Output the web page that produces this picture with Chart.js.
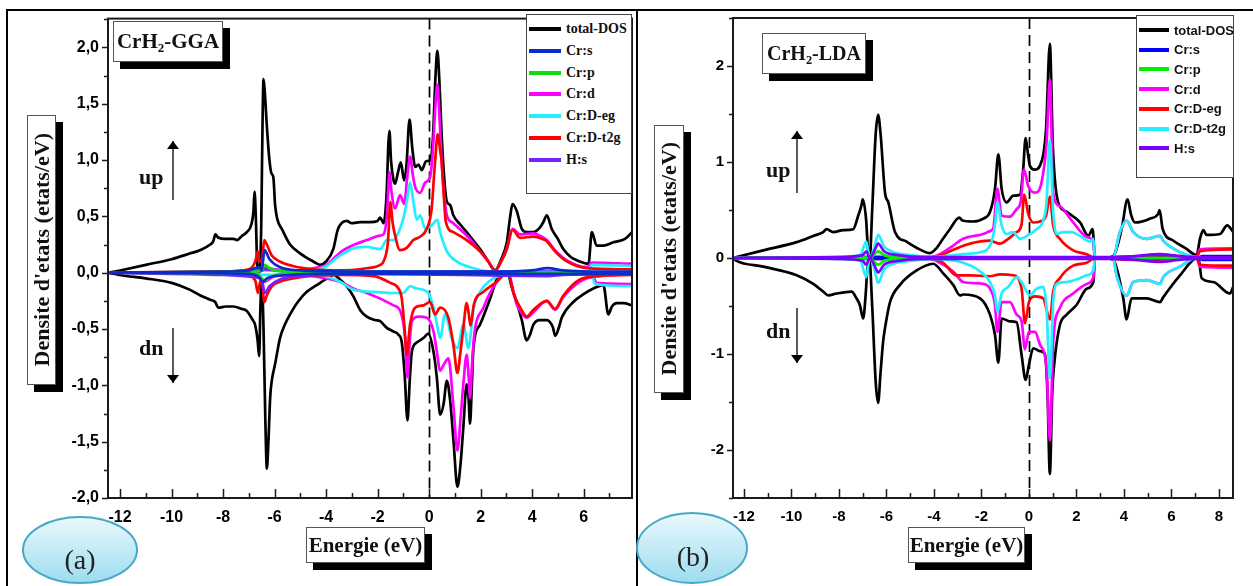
<!DOCTYPE html>
<html lang="fr">
<head>
<meta charset="utf-8">
<title>CrH2 DOS GGA / LDA</title>
<script src="https://cdn.jsdelivr.net/npm/chart.js@4.4.1/dist/chart.umd.min.js"></script>
<style>
  html, body { margin: 0; padding: 0; background: #fff; }
  body { width: 1253px; height: 586px; position: relative; overflow: hidden; font-family: "Liberation Serif", "Times New Roman", serif; }
  .plot { position: absolute; }
  .rule { position: absolute; background: #000; }
  .tbox { position: absolute; background: #fff; border: 1px solid #555; box-shadow: 7px 7px 0 #000; font-weight: bold; color: #111; display: flex; align-items: center; justify-content: center; white-space: nowrap; }
  .tbox sub { font-size: 62%; vertical-align: -0.32em; line-height: 0; }
  .vtext { writing-mode: vertical-rl; transform: rotate(180deg); }
  .legend { position: absolute; background: #fff; border: 1.5px solid #444; box-sizing: border-box; }
  .legend .item { position: absolute; left: 0; height: 18px; display: flex; align-items: center; white-space: nowrap; font-weight: bold; color: #111; }
  .legend .swatch { display: inline-block; height: 4px; margin-right: 5px; }
  .lbl { position: absolute; font-weight: bold; font-size: 22px; color: #111; line-height: 1; }
  svg.over { position: absolute; left: 0; top: 0; pointer-events: none; }
</style>
</head>
<body>

<!-- cadre -->
<div class="rule" style="left:6px;top:9px;width:1247px;height:2px"></div>
<div class="rule" style="left:6px;top:9px;width:2px;height:577px"></div>
<div class="rule" style="left:636px;top:9px;width:2px;height:577px"></div>

<div class="plot" style="left:40px;top:0;width:600px;height:540px"><canvas id="dosA"></canvas></div>
<div class="plot" style="left:660px;top:0;width:580px;height:540px"><canvas id="dosB"></canvas></div>

<!-- titres -->
<div class="tbox" style="left:113px;top:21px;width:108px;height:39px;font-size:21px"><span>CrH<sub>2</sub>-GGA</span></div>
<div class="tbox" style="left:762px;top:33px;width:102px;height:39px;font-size:20px"><span>CrH<sub>2</sub>-LDA</span></div>

<div class="tbox" style="left:27px;top:115px;width:27px;height:268px;font-size:22px"><span class="vtext">Densite d'etats (etats/eV)</span></div>
<div class="tbox" style="left:654px;top:125px;width:28px;height:266px;font-size:22px"><span class="vtext">Densite d'etats (etats/eV)</span></div>

<div class="tbox" style="left:306px;top:527px;width:117px;height:34px;font-size:21px">Energie (eV)</div>
<div class="tbox" style="left:908px;top:527px;width:115px;height:34px;font-size:21px">Energie (eV)</div>

<div class="legend" id="legA" style="left:526px;top:14px;width:106px;height:180px;font-family:'Liberation Serif','Times New Roman',serif;font-size:14px"></div>
<div class="legend" id="legB" style="left:1136px;top:15px;width:98px;height:163px;font-family:'Liberation Sans',Arial,sans-serif;font-size:13px"></div>

<div class="lbl" style="left:139px;top:166px">up</div>
<div class="lbl" style="left:139px;top:337px">dn</div>
<div class="lbl" style="left:766px;top:159px">up</div>
<div class="lbl" style="left:766px;top:320px">dn</div>

<svg class="over" width="1253" height="586" viewBox="0 0 1253 586">
  <defs>
    <linearGradient id="bub" x1="0" y1="0" x2="0" y2="1">
      <stop offset="0" stop-color="#eaf9fd"/>
      <stop offset="1" stop-color="#9ddcef"/>
    </linearGradient>
    <marker id="tip" viewBox="0 0 8 12" refX="8" refY="6" markerWidth="8" markerHeight="12" orient="auto" markerUnits="userSpaceOnUse">
      <path d="M0,0 L8,6 L0,12 z" fill="#000"/>
    </marker>
  </defs>
  <line x1="173" y1="200" x2="173" y2="141" stroke="#000" stroke-width="1.3" marker-end="url(#tip)"/>
  <line x1="173" y1="328" x2="173" y2="383" stroke="#000" stroke-width="1.3" marker-end="url(#tip)"/>
  <line x1="797" y1="193" x2="797" y2="131" stroke="#000" stroke-width="1.3" marker-end="url(#tip)"/>
  <line x1="797" y1="308" x2="797" y2="363" stroke="#000" stroke-width="1.3" marker-end="url(#tip)"/>
  <ellipse cx="80" cy="550" rx="57" ry="33" fill="url(#bub)" stroke="#46a9c6" stroke-width="2"/>
  <ellipse cx="692" cy="548" rx="55" ry="35" fill="url(#bub)" stroke="#46a9c6" stroke-width="2"/>
  <text x="80" y="569" text-anchor="middle" font-family="Liberation Serif, Times New Roman, serif" font-size="28" fill="#222">(a)</text>
  <text x="693" y="566" text-anchor="middle" font-family="Liberation Serif, Times New Roman, serif" font-size="28" fill="#222">(b)</text>
</svg>

<script>
// ---------- Données (a) GGA : paires [E (eV), DOS (etats/eV)] ----------
const ggaTotalUp = [[-12.47,0],[-12.2,0.01],[-12,0.02],[-11,0.07],[-10,0.12],[-9.3,0.17],[-8.9,0.2],[-8.5,0.25],[-8.38,0.28],[-8.3,0.34],[-8.18,0.31],[-7.9,0.3],[-7.6,0.3],[-7.45,0.29],[-7.3,0.32],[-7.08,0.36],[-6.9,0.43],[-6.82,0.55],[-6.78,0.72],[-6.73,0.5],[-6.68,0.1],[-6.6,0],[-6.52,0.4],[-6.47,1.3],[-6.43,1.72],[-6.38,1.6],[-6.3,1.3],[-6.2,1.0],[-6.12,0.88],[-6.05,0.85],[-5.98,0.6],[-5.9,0.48],[-5.7,0.38],[-5.4,0.25],[-5,0.17],[-4.5,0.1],[-4.23,0.07],[-4,0.1],[-3.72,0.21],[-3.55,0.38],[-3.4,0.44],[-3.2,0.46],[-3,0.44],[-2.68,0.45],[-2.3,0.45],[-2,0.46],[-1.9,0.49],[-1.77,0.44],[-1.65,0.7],[-1.58,1.15],[-1.54,1.26],[-1.48,1.0],[-1.38,0.82],[-1.32,0.79],[-1.2,0.9],[-1.1,0.98],[-0.97,0.82],[-0.88,0.95],[-0.76,1.36],[-0.65,1.1],[-0.54,0.94],[-0.41,0.96],[-0.28,0.91],[-0.12,0.99],[0.04,1.0],[0.15,1.2],[0.25,1.75],[0.32,1.97],[0.4,1.7],[0.49,1.21],[0.6,0.8],[0.69,0.63],[0.82,0.6],[0.94,0.51],[1.2,0.43],[1.46,0.36],[1.7,0.29],[1.98,0.21],[2.3,0.1],[2.56,0.02],[2.8,0.12],[3.02,0.27],[3.15,0.5],[3.24,0.61],[3.4,0.55],[3.6,0.39],[3.8,0.36],[4.05,0.36],[4.3,0.4],[4.44,0.45],[4.57,0.51],[4.76,0.39],[5,0.3],[5.21,0.21],[5.5,0.14],[5.74,0.11],[6.19,0.08],[6.32,0.36],[6.51,0.24],[6.77,0.24],[7.16,0.27],[7.61,0.3],[7.88,0.36]];
const ggaTotalDn = [[-12.47,0],[-12.2,-0.01],[-12,-0.02],[-11,-0.05],[-10,-0.09],[-9.3,-0.15],[-8.9,-0.2],[-8.5,-0.24],[-8.31,-0.26],[-8.18,-0.31],[-7.9,-0.3],[-7.6,-0.3],[-7.3,-0.32],[-7.08,-0.34],[-6.85,-0.42],[-6.76,-0.46],[-6.66,-0.6],[-6.6,-0.74],[-6.55,-0.3],[-6.5,-0.05],[-6.43,-0.5],[-6.36,-1.3],[-6.3,-1.74],[-6.24,-1.5],[-6.17,-1.1],[-6.11,-0.96],[-5.98,-0.81],[-5.79,-0.58],[-5.6,-0.46],[-5.4,-0.37],[-5.1,-0.26],[-4.75,-0.17],[-4.23,-0.09],[-3.9,-0.04],[-3.71,-0.02],[-3.46,-0.06],[-3.2,-0.12],[-2.94,-0.21],[-2.68,-0.33],[-2.42,-0.39],[-2.1,-0.42],[-1.9,-0.43],[-1.64,-0.49],[-1.4,-0.52],[-1.19,-0.55],[-1.06,-0.62],[-0.95,-0.9],[-0.84,-1.31],[-0.75,-0.95],[-0.67,-0.7],[-0.48,-0.62],[-0.22,-0.58],[-0.03,-0.54],[0.17,-0.7],[0.3,-0.93],[0.43,-1.26],[0.56,-1.17],[0.69,-0.96],[0.82,-1.14],[0.95,-1.5],[1.1,-1.9],[1.22,-1.7],[1.33,-1.37],[1.46,-0.99],[1.53,-1.1],[1.59,-1.34],[1.66,-1.0],[1.72,-0.67],[1.98,-0.46],[2.37,-0.23],[2.63,-0.06],[3.05,0],[3.2,-0.12],[3.4,-0.26],[3.6,-0.42],[3.79,-0.6],[3.92,-0.55],[4.05,-0.46],[4.3,-0.42],[4.57,-0.42],[4.8,-0.48],[4.9,-0.56],[5.05,-0.48],[5.15,-0.4],[5.6,-0.26],[6,-0.19],[6.38,-0.14],[6.77,-0.11],[6.96,-0.37],[7.1,-0.3],[7.29,-0.27],[7.55,-0.27],[7.88,-0.29]];
const ggaCrsUp = [[-12.47,0],[-8,0.01],[-7,0.02],[-6.6,0.05],[-6.5,0.02],[-6.39,0.2],[-6.2,0.12],[-5.8,0.05],[-5,0.02],[-3,0.01],[3,0.01],[4,0.02],[4.6,0.04],[5.2,0.02],[6.2,0.01],[7.88,0.01]];
const ggaCrsDn = [[-12.47,0],[-7,-0.01],[-6.6,-0.04],[-6.45,-0.08],[-6.3,-0.05],[-5.5,-0.02],[-4,-0.01],[7.88,-0.01]];
const ggaCrpUp = [[-12.47,0],[-6.7,0.01],[-6.5,0.02],[-6.38,0.07],[-6.2,0.04],[-5.5,0.01],[7.88,0]];
const ggaCrpDn = [[-12.47,0],[-6.7,-0.01],[-6.38,-0.07],[-6.2,-0.04],[-5.5,-0.01],[7.88,0]];
const ggaCrdUp = [[-12.47,0],[-8,0.01],[-7,0.02],[-6.7,0.02],[-6.4,0.05],[-6,0.03],[-5,0.02],[-4.5,0.04],[-3.97,0.07],[-3.6,0.15],[-3.33,0.2],[-2.9,0.25],[-2.42,0.29],[-1.9,0.33],[-1.77,0.34],[-1.64,0.5],[-1.54,0.89],[-1.45,0.7],[-1.32,0.57],[-1.13,0.69],[-0.96,0.61],[-0.85,0.85],[-0.74,1.03],[-0.62,0.85],[-0.54,0.76],[-0.35,0.71],[-0.15,0.8],[0.04,0.85],[0.15,1.1],[0.25,1.5],[0.32,1.67],[0.4,1.4],[0.49,0.98],[0.6,0.65],[0.69,0.51],[0.94,0.44],[1.46,0.33],[1.98,0.19],[2.3,0.1],[2.56,0.02],[2.8,0.1],[3.02,0.22],[3.24,0.39],[3.53,0.34],[4.05,0.35],[4.44,0.31],[4.57,0.29],[4.89,0.2],[5.35,0.11],[6.13,0.05],[6.32,0.09],[7.88,0.08]];
const ggaCrdDn = [[-12.47,0],[-8,-0.01],[-7,-0.02],[-6.6,-0.05],[-6.4,-0.08],[-6,-0.03],[-5,-0.02],[-4.5,-0.03],[-4,-0.05],[-3.46,-0.08],[-2.94,-0.14],[-2.42,-0.18],[-1.9,-0.23],[-1.38,-0.29],[-1.12,-0.34],[-0.93,-0.58],[-0.84,-0.93],[-0.75,-0.6],[-0.67,-0.43],[-0.41,-0.39],[-0.09,-0.4],[0.17,-0.52],[0.3,-0.7],[0.43,-0.87],[0.56,-0.82],[0.75,-0.76],[0.95,-1.2],[1.1,-1.58],[1.22,-1.3],[1.33,-0.99],[1.46,-0.73],[1.53,-0.9],[1.59,-1.11],[1.66,-0.85],[1.74,-0.58],[2.11,-0.31],[2.63,-0.08],[3.05,0],[3.4,-0.28],[3.6,-0.36],[3.79,-0.4],[4.05,-0.35],[4.57,-0.25],[4.89,-0.33],[5.2,-0.22],[5.86,-0.08],[6.38,-0.04],[6.5,-0.09],[7.88,-0.1]];
const ggaEgUp = [[-12.47,0],[-8,0.005],[-6.7,0.01],[-6.4,0.02],[-5,0.01],[-4.5,0.02],[-3.97,0.06],[-3.6,0.13],[-3.33,0.17],[-2.9,0.22],[-2.42,0.23],[-1.9,0.21],[-1.64,0.29],[-1.38,0.29],[-1.13,0.39],[-0.98,0.5],[-0.87,0.63],[-0.74,0.8],[-0.61,0.63],[-0.48,0.47],[-0.35,0.51],[-0.15,0.39],[0.1,0.42],[0.32,0.47],[0.43,0.36],[0.69,0.19],[1.07,0.1],[1.72,0.04],[2.49,0.01],[3.5,0.01],[5,0.01],[6.2,0.01],[6.32,0.07],[7.88,0.06]];
const ggaEgDn = [[-12.47,0],[-8,-0.005],[-6.4,-0.02],[-5,-0.01],[-4.3,-0.02],[-3.9,-0.04],[-3.46,-0.08],[-2.94,-0.15],[-2.16,-0.17],[-1.51,-0.18],[-1,-0.18],[-0.74,-0.12],[-0.48,-0.14],[-0.03,-0.18],[0.17,-0.31],[0.3,-0.45],[0.43,-0.58],[0.62,-0.37],[0.88,-0.58],[1.1,-0.67],[1.33,-0.46],[1.53,-0.67],[1.72,-0.33],[1.98,-0.17],[2.5,-0.05],[3.1,-0.01],[6.3,-0.01],[6.45,-0.1],[7.88,-0.12]];
const ggaT2gUp = [[-12.47,0],[-8,0.01],[-7,0.03],[-6.75,0.1],[-6.65,0.19],[-6.58,0.1],[-6.5,0.1],[-6.4,0.29],[-6.3,0.25],[-6.1,0.15],[-5.8,0.1],[-5.3,0.06],[-4.5,0.03],[-3.7,0.02],[-2.42,0.04],[-1.9,0.07],[-1.77,0.1],[-1.6,0.27],[-1.5,0.63],[-1.42,0.45],[-1.32,0.33],[-1.13,0.2],[-0.87,0.22],[-0.61,0.29],[-0.35,0.32],[-0.09,0.39],[0.1,0.57],[0.22,0.95],[0.34,1.23],[0.42,1.1],[0.49,0.98],[0.58,0.65],[0.65,0.45],[0.94,0.36],[1.46,0.29],[1.98,0.19],[2.3,0.1],[2.56,0.02],[2.8,0.1],[3.02,0.21],[3.24,0.38],[3.53,0.31],[4.05,0.32],[4.4,0.3],[4.57,0.28],[4.89,0.19],[5.35,0.1],[6.13,0.04],[7.88,0.03]];
const ggaT2gDn = [[-12.47,0],[-8,-0.01],[-7,-0.03],[-6.75,-0.07],[-6.65,-0.18],[-6.58,-0.1],[-6.5,-0.05],[-6.4,-0.26],[-6.3,-0.2],[-6.1,-0.12],[-5.8,-0.08],[-5,-0.04],[-3.46,-0.02],[-2.16,-0.03],[-1.51,-0.09],[-1.19,-0.14],[-1.06,-0.23],[-0.95,-0.5],[-0.87,-0.73],[-0.74,-0.46],[-0.54,-0.31],[-0.22,-0.29],[0.04,-0.26],[0.23,-0.37],[0.43,-0.31],[0.75,-0.4],[0.95,-0.65],[1.1,-0.89],[1.22,-0.7],[1.33,-0.49],[1.46,-0.27],[1.53,-0.35],[1.61,-0.47],[1.74,-0.28],[2.11,-0.17],[2.63,-0.08],[3.05,0],[3.3,-0.2],[3.54,-0.31],[3.79,-0.39],[4.05,-0.33],[4.57,-0.25],[4.89,-0.32],[5.22,-0.2],[5.86,-0.06],[6.64,-0.03],[7.88,-0.02]];
const ggaHsUp = [[-12.47,0],[-6.6,0.01],[-6.38,0.03],[-5.5,0.01],[4.6,0.01],[7.88,0]];
const ggaHsDn = [[-12.47,0],[-8,-0.02],[-6.7,-0.04],[-6.5,-0.06],[-6.38,-0.18],[-6.2,-0.12],[-5.8,-0.06],[-5,-0.03],[-2,-0.01],[4.6,-0.03],[5.2,-0.02],[7.88,-0.01]];

// ---------- Données (b) LDA ----------
const ldaTotalUp = [[-12.46,0],[-12.31,0.01],[-11.19,0.08],[-9.78,0.165],[-9.08,0.23],[-8.66,0.27],[-8.52,0.3],[-8.24,0.27],[-7.82,0.29],[-7.4,0.3],[-7.19,0.44],[-7.05,0.55],[-7,0.61],[-6.86,0.41],[-6.78,0.1],[-6.7,0],[-6.6,0.5],[-6.45,1.3],[-6.35,1.49],[-6.25,1.3],[-6.06,0.68],[-5.92,0.58],[-5.64,0.27],[-5.15,0.17],[-4.6,0.09],[-4.17,0.05],[-3.9,0.1],[-3.62,0.2],[-3.33,0.3],[-2.93,0.42],[-2.8,0.39],[-2.35,0.38],[-1.92,0.41],[-1.64,0.48],[-1.43,0.72],[-1.29,1.08],[-1.15,0.72],[-0.94,0.58],[-0.66,0.65],[-0.38,0.66],[-0.25,0.9],[-0.14,1.25],[-0.05,1.1],[0.04,0.96],[0.25,0.92],[0.46,0.96],[0.62,1.1],[0.72,1.34],[0.88,2.23],[1,1.2],[1.09,0.82],[1.23,0.58],[1.59,0.48],[2.15,0.37],[2.5,0.23],[2.68,0.3],[2.78,0],[3.2,0],[3.55,0.02],[3.9,0.3],[4.15,0.61],[4.3,0.45],[4.46,0.37],[5.09,0.41],[5.44,0.46],[5.5,0.5],[5.63,0.3],[6.08,0.18],[6.6,0.1],[7.06,0.03],[7.2,0.2],[7.34,0.29],[7.48,0.24],[8.04,0.25],[8.35,0.34],[8.6,0.27]];
const ldaTotalDn = [[-12.46,0],[-12.31,-0.03],[-11.19,-0.09],[-9.78,-0.18],[-9.08,-0.27],[-8.66,-0.35],[-8.45,-0.39],[-8.1,-0.37],[-7.47,-0.35],[-7.26,-0.42],[-7.12,-0.49],[-6.98,-0.63],[-6.88,-0.4],[-6.8,-0.1],[-6.72,0],[-6.6,-0.5],[-6.45,-1.3],[-6.35,-1.51],[-6.25,-1.2],[-6.14,-0.87],[-6.06,-0.73],[-5.85,-0.46],[-5.43,-0.28],[-4.73,-0.13],[-4.03,-0.06],[-3.61,-0.16],[-3.19,-0.28],[-2.9,-0.39],[-2.77,-0.38],[-2.06,-0.42],[-1.64,-0.59],[-1.43,-0.8],[-1.29,-1.09],[-1.15,-0.63],[-0.8,-0.66],[-0.52,-0.67],[-0.31,-1.01],[-0.14,-1.27],[0,-1.11],[0.18,-0.94],[0.46,-0.97],[0.67,-1.0],[0.78,-1.4],[0.88,-2.25],[0.98,-1.4],[1.09,-1.04],[1.3,-0.7],[1.59,-0.59],[2,-0.49],[2.43,-0.32],[2.71,-0.25],[2.78,0],[3.2,0],[3.55,-0.02],[3.97,-0.42],[4.11,-0.64],[4.32,-0.42],[4.96,-0.42],[5.52,-0.46],[5.65,-0.41],[6.36,-0.18],[7.13,0.01],[7.27,-0.21],[7.76,-0.25],[8.46,-0.37],[8.6,-0.3]];
const ldaCrsUp = [[-12.46,0],[-6.4,0.01],[7.1,0],[7.3,0.02],[8.6,0.02]];
const ldaCrsDn = [[-12.46,0],[-6.4,-0.01],[7.1,0],[7.3,-0.02],[8.6,-0.02]];
const ldaCrpUp = [[-12.46,0],[-7,0.01],[-6.7,0],[-6.35,0.07],[-6.1,0.03],[-5.5,0.01],[8.6,0]];
const ldaCrpDn = [[-12.46,0],[-7,-0.01],[-6.7,0],[-6.35,-0.07],[-6.1,-0.03],[-5.5,-0.01],[8.6,0]];
const ldaCrdUp = [[-12.46,0],[-8,0.005],[-6.5,0.01],[-5,0.01],[-4.17,0.01],[-3.75,0.04],[-3.19,0.13],[-2.77,0.2],[-1.92,0.25],[-1.64,0.28],[-1.5,0.31],[-1.33,0.72],[-1.15,0.44],[-0.8,0.43],[-0.52,0.51],[-0.35,0.58],[-0.21,0.92],[-0.03,0.75],[0.25,0.68],[0.53,0.79],[0.74,1.2],[0.88,1.86],[1.02,0.68],[1.3,0.54],[1.86,0.37],[2.43,0.22],[2.71,0.17],[2.78,0],[3.55,0.01],[3.83,0.27],[4.11,0.39],[4.39,0.27],[4.96,0.2],[5.52,0.23],[5.65,0.18],[6.36,0.06],[7.06,0.01],[7.2,0.09],[8.6,0.1]];
const ldaCrdDn = [[-12.46,0],[-8,-0.005],[-5,-0.01],[-4.17,-0.01],[-3.75,-0.05],[-3.19,-0.14],[-2.77,-0.25],[-1.92,-0.27],[-1.64,-0.32],[-1.43,-0.49],[-1.33,-0.77],[-1.15,-0.46],[-0.8,-0.46],[-0.52,-0.59],[-0.31,-0.66],[-0.17,-0.95],[0,-0.77],[0.25,-0.77],[0.46,-0.9],[0.74,-1.15],[0.88,-1.9],[1.02,-0.87],[1.3,-0.52],[1.86,-0.37],[2.43,-0.27],[2.71,-0.2],[2.78,0],[3.55,-0.01],[3.69,-0.18],[4.11,-0.39],[4.39,-0.25],[4.96,-0.23],[5.52,-0.27],[5.65,-0.2],[6.36,-0.09],[7.06,0],[7.2,-0.09],[8.6,-0.1]];
const ldaEgUp = [[-12.46,0],[-6.5,0.01],[-4.17,0],[-3.61,0.04],[-3.05,0.1],[-2.48,0.15],[-1.64,0.18],[-1.22,0.15],[-0.87,0.2],[-0.52,0.27],[-0.31,0.35],[-0.2,0.66],[-0.03,0.46],[0.18,0.37],[0.46,0.38],[0.72,0.44],[0.88,0.64],[1.02,0.34],[1.3,0.2],[1.86,0.08],[2.43,0.04],[2.78,0],[3.55,0.01],[5,0.02],[6.5,0.02],[7.06,0.01],[7.2,0.07],[8.6,0.09]];
const ldaEgDn = [[-12.46,0],[-6.5,-0.01],[-4.17,0],[-3.61,-0.05],[-3.05,-0.18],[-2.48,-0.18],[-1.64,-0.19],[-1.22,-0.17],[-0.66,-0.18],[-0.31,-0.32],[-0.17,-0.68],[0,-0.46],[0.25,-0.4],[0.6,-0.42],[0.88,-0.64],[1.02,-0.35],[1.3,-0.21],[1.86,-0.08],[2.43,-0.05],[2.78,0],[3.55,-0.01],[5,-0.02],[7.06,0],[7.2,-0.07],[8.6,-0.08]];
const ldaT2gUp = [[-12.46,0],[-8,0.01],[-7.1,0.03],[-6.85,0.17],[-6.75,0.05],[-6.68,0],[-6.5,0.12],[-6.35,0.24],[-6.1,0.12],[-5.7,0.06],[-5,0.03],[-4.17,0.01],[-2.77,0.04],[-2.06,0.06],[-1.64,0.13],[-1.43,0.34],[-1.33,0.58],[-1.15,0.34],[-0.94,0.25],[-0.66,0.27],[-0.38,0.2],[0.04,0.25],[0.32,0.3],[0.6,0.39],[0.74,0.58],[0.88,1.23],[1.02,0.48],[1.16,0.25],[1.44,0.27],[1.8,0.27],[2.15,0.23],[2.57,0.17],[2.71,0.2],[2.78,0],[3.55,0.01],[3.83,0.27],[4.11,0.39],[4.39,0.27],[4.96,0.2],[5.52,0.23],[5.65,0.18],[6.36,0.06],[7.06,0.01],[8.6,0.01]];
const ldaT2gDn = [[-12.46,0],[-8,-0.01],[-7.1,-0.03],[-6.85,-0.2],[-6.75,-0.05],[-6.68,0],[-6.5,-0.12],[-6.35,-0.26],[-6.1,-0.12],[-5.7,-0.06],[-5,-0.03],[-4.17,-0.01],[-2.77,-0.05],[-2.06,-0.14],[-1.64,-0.25],[-1.43,-0.39],[-1.33,-0.56],[-1.15,-0.37],[-0.87,-0.3],[-0.52,-0.2],[-0.31,-0.25],[0.04,-0.39],[0.32,-0.32],[0.6,-0.3],[0.74,-0.52],[0.88,-1.25],[1.02,-0.46],[1.16,-0.27],[1.59,-0.25],[2.15,-0.21],[2.43,-0.18],[2.71,-0.13],[2.78,0],[3.55,-0.01],[3.69,-0.18],[4.11,-0.39],[4.39,-0.25],[4.96,-0.23],[5.52,-0.27],[5.65,-0.2],[6.36,-0.09],[7.06,0],[8.6,-0.01]];
const ldaHsUp = [[-12.46,0],[-8,0.01],[-7,0.03],[-6.85,0.07],[-6.7,0],[-6.5,0.08],[-6.35,0.15],[-6.1,0.07],[-5.5,0.03],[-4.5,0.01],[3.5,0.01],[4.5,0.02],[5.5,0.04],[6.3,0.02],[7.1,0.01],[8.6,0.01]];
const ldaHsDn = [[-12.46,0],[-8,-0.01],[-7,-0.03],[-6.85,-0.07],[-6.7,0],[-6.5,-0.08],[-6.35,-0.15],[-6.1,-0.07],[-5.5,-0.03],[-4.5,-0.01],[3.5,-0.01],[4.5,-0.02],[5.5,-0.04],[6.3,-0.02],[7.1,-0.01],[8.6,-0.01]];

// ---------- Axes ----------
const ggaXTicks = [-12, -10, -8, -6, -4, -2, 0, 2, 4, 6];
const ggaYTicks = [-2, -1.5, -1, -0.5, 0, 0.5, 1, 1.5, 2];
const ldaXTicks = [-12, -10, -8, -6, -4, -2, 0, 2, 4, 6, 8];
const ldaYTicks = [-2, -1, 0, 1, 2];

const seriesNames = ["total-DOS", "Cr:s", "Cr:p", "Cr:d", "Cr:D-eg", "Cr:D-t2g", "H:s"];

// couleurs (a) et (b) : eg/t2g inversés entre les deux figures
const colorsA = ["#000000", "#0a2ccc", "#11dd11", "#ff00ff", "#22eeff", "#ff0000", "#7a1fff"];
const colorsB = ["#000000", "#0000ff", "#00ee00", "#ff00ff", "#ff0000", "#22eeff", "#7a00ff"];

// ---------- Légendes ----------
function buildLegend(id, colors, top0, step, swW) {
  const box = document.getElementById(id);
  seriesNames.forEach((name, i) => {
    const it = document.createElement("div");
    it.className = "item";
    it.style.top = (top0 + i * step - 9) + "px";
    it.style.left = "2px";
    it.innerHTML = `<span class="swatch" style="width:${swW}px;background:${colors[i]}"></span>${name}`;
    box.appendChild(it);
  });
}
buildLegend("legA", colorsA, 14, 21.8, 32);
buildLegend("legB", colorsB, 14, 19.7, 30);

// ---------- Plugin : cadre, graduations, ligne E_F ----------
const frameTicks = {
  id: "frameTicks",
  beforeDatasetsDraw(chart) {
    const { ctx, chartArea: a, scales: { x } } = chart;
    const x0 = Math.round(x.getPixelForValue(0)) + 0.5;
    ctx.save();
    ctx.strokeStyle = "#000";
    ctx.lineWidth = 1.7;
    ctx.setLineDash([11, 6]);
    ctx.beginPath();
    ctx.moveTo(x0, a.top);
    ctx.lineTo(x0, a.bottom);
    ctx.stroke();
    ctx.restore();
  },
  afterDraw(chart, args, o) {
    const { ctx, chartArea: a, scales: { x, y } } = chart;
    ctx.save();
    ctx.strokeStyle = "#1a1a1a";
    ctx.lineWidth = 2;
    ctx.strokeRect(a.left, a.top, a.right - a.left, a.bottom - a.top);
    ctx.lineWidth = 1.5;
    ctx.beginPath();
    for (let v = Math.ceil(x.min / o.xMinor) * o.xMinor; v <= x.max + 1e-9; v += o.xMinor) {
      const px = Math.round(x.getPixelForValue(v)) + 0.5;
      const major = Math.abs(v / o.xMajor - Math.round(v / o.xMajor)) < 1e-6;
      ctx.moveTo(px, a.bottom);
      ctx.lineTo(px, a.bottom - (major ? 9 : 5));
    }
    for (let v = Math.ceil(y.min / o.yMinor) * o.yMinor; v <= y.max + 1e-9; v += o.yMinor) {
      const py = Math.round(y.getPixelForValue(v)) + 0.5;
      const major = Math.abs(v / o.yMajor - Math.round(v / o.yMajor)) < 1e-6;
      ctx.moveTo(a.left, py);
      ctx.lineTo(a.left - (major ? 6 : 4), py);
    }
    ctx.stroke();
    ctx.restore();
  }
};

function ds(data, color, order) {
  return {
    data: data.map(([x, y]) => ({ x, y })),
    borderColor: color,
    borderWidth: 2.7,
    pointRadius: 0,
    fill: false,
    tension: 0,
    cubicInterpolationMode: "monotone",
    borderJoinStyle: "round",
    order
  };
}

function makeChart(id, sets, colors, orders, cfg) {
  const datasets = [];
  sets.forEach((pair, i) => {
    datasets.push(ds(pair[0], colors[i], orders[i]));
    datasets.push(ds(pair[1], colors[i], orders[i]));
  });
  return new Chart(document.getElementById(id), {
    type: "line",
    data: { datasets },
    options: {
      responsive: true,
      maintainAspectRatio: false,
      animation: false,
      events: [],
      layout: { padding: { left: 0, right: cfg.padRight, top: 16, bottom: 0 } },
      plugins: {
        legend: { display: false },
        tooltip: { enabled: false },
        frameTicks: cfg.ticks
      },
      scales: {
        x: {
          type: "linear",
          min: cfg.xMin, max: cfg.xMax,
          grid: { display: false, drawTicks: false },
          border: { display: false },
          afterBuildTicks: (s) => { s.ticks = cfg.xTicks.map((v) => ({ value: v })); },
          afterFit: (s) => { s.height = 42; },
          ticks: {
            color: "#000", padding: 10, maxRotation: 0, autoSkip: false,
            font: { family: "'Liberation Sans', Arial, sans-serif", size: cfg.fontSize, weight: "bold" },
            callback: (v) => String(v)
          }
        },
        y: {
          min: cfg.yMin, max: cfg.yMax,
          grid: { display: false, drawTicks: false },
          border: { display: false },
          afterBuildTicks: (s) => { s.ticks = cfg.yTicks.map((v) => ({ value: v })); },
          afterFit: (s) => { s.width = cfg.yWidth; },
          ticks: {
            color: "#000", padding: 9, autoSkip: false,
            font: { family: "'Liberation Sans', Arial, sans-serif", size: cfg.fontSize, weight: "bold" },
            callback: cfg.yFmt
          }
        }
      }
    },
    plugins: [frameTicks]
  });
}

makeChart("dosA",
  [[ggaTotalUp, ggaTotalDn], [ggaCrsUp, ggaCrsDn], [ggaCrpUp, ggaCrpDn], [ggaCrdUp, ggaCrdDn], [ggaEgUp, ggaEgDn], [ggaT2gUp, ggaT2gDn], [ggaHsUp, ggaHsDn]],
  colorsA, [6, 0, 1, 5, 4, 3, 2],
  {
    xMin: -12.47, xMax: 7.88, yMin: -2, yMax: 2.256,
    xTicks: ggaXTicks, yTicks: ggaYTicks, yWidth: 68, padRight: 8, fontSize: 16,
    yFmt: (v) => v.toFixed(1).replace(".", ","),
    ticks: { xMajor: 2, xMinor: 1, yMajor: 0.5, yMinor: 0.25 }
  });

makeChart("dosB",
  [[ldaTotalUp, ldaTotalDn], [ldaCrsUp, ldaCrsDn], [ldaCrpUp, ldaCrpDn], [ldaCrdUp, ldaCrdDn], [ldaEgUp, ldaEgDn], [ldaT2gUp, ldaT2gDn], [ldaHsUp, ldaHsDn]],
  colorsB, [6, 2, 1, 5, 4, 3, 0],
  {
    xMin: -12.46, xMax: 8.59, yMin: -2.5, yMax: 2.5,
    xTicks: ldaXTicks, yTicks: ldaYTicks, yWidth: 73, padRight: 7, fontSize: 15,
    yFmt: (v) => String(v),
    ticks: { xMajor: 2, xMinor: 1, yMajor: 1, yMinor: 0.5 }
  });
</script>
</body>
</html>
